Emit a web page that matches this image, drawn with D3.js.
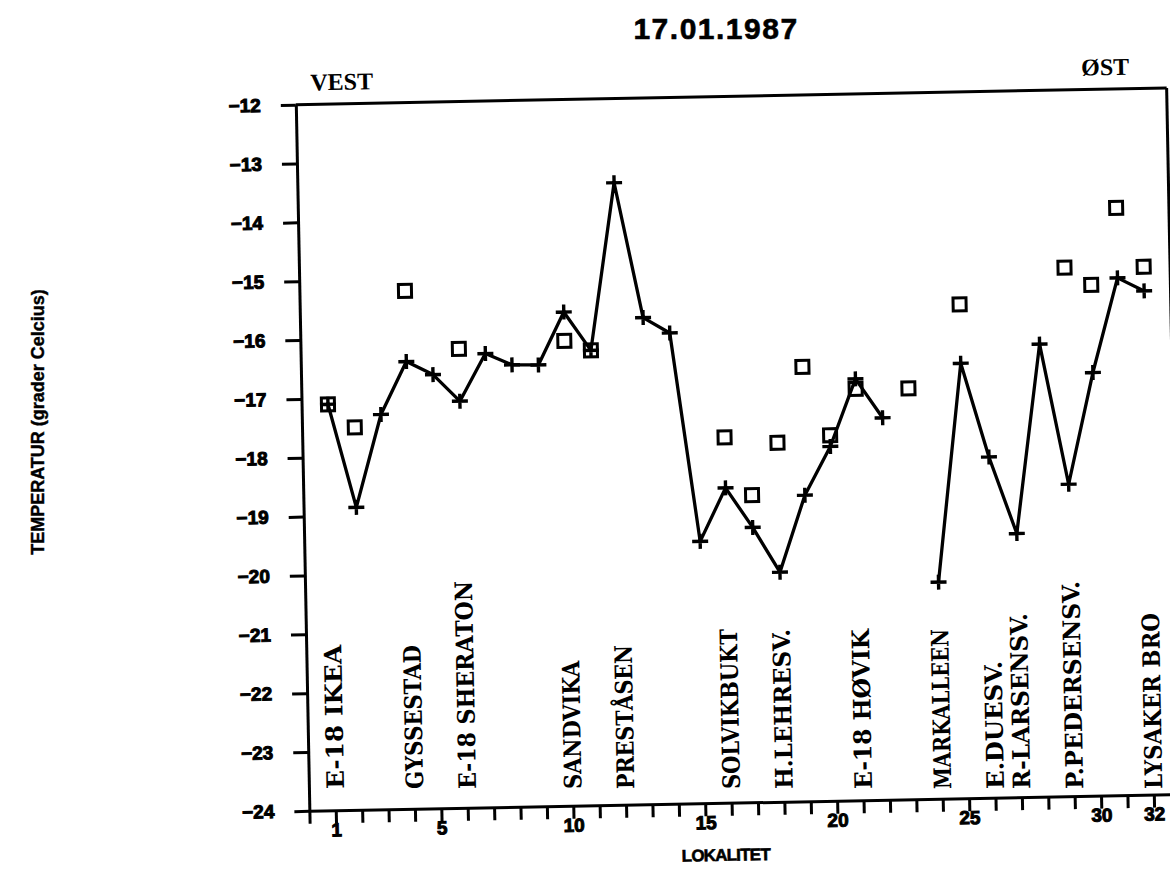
<!DOCTYPE html>
<html><head><meta charset="utf-8">
<script src="https://cdn.jsdelivr.net/npm/d3@7"></script>
<style>body{margin:0;background:#fff}</style>
</head><body>
<svg id="c" width="1170" height="894"></svg>
<script>
// ---------------- data ----------------
const chartTitle = "17.01.1987";
const yAxisTitle = "TEMPERATUR (grader Celcius)";
const xAxisTitle = "LOKALITET";
const westLabel = "VEST";
const eastLabel = "ØST";
const locations = d3.range(1, 33);            // lokalitet 1..32
// temperature along the route (line with + markers), null = no measurement
const lineTemps = [-17.10, -18.86, -17.29, -16.40, -16.63, -17.09, -16.29, -16.49,
                   -16.50, -15.61, -16.27, -13.43, -15.73, -16.00, -19.55, -18.65,
                   -19.33, -20.10, -18.80, -17.98, -16.84, -17.51, null, -20.32,
                   -16.61, -18.21, -19.52, -16.31, -18.70, -16.81, -15.21, -15.44];
// second measurement (square markers)
const squareTemps = [-17.10, -17.50, null, -15.20, null, -16.20, null, null,
                     null, -16.10, -16.27, null, null, null, null, -17.79,
                     -18.78, -17.90, -16.62, -17.79, -17.01, null, -17.02, null,
                     -15.61, null, null, null, -15.02, -15.32, -14.02, -15.03];
const yTickValues = d3.range(-12, -25, -1);
const xTickValues = d3.range(0, 33);
const xTickLabels = [1, 5, 10, 15, 20, 25, 30, 32];
const stationIdx = [1, 4, 6, 10, 12, 16, 18, 21, 24, 26, 27, 29, 32];
const stationNames = ["E-18 IKEA", "GYSSESTAD", "E-18 SHERATON", "SANDVIKA", "PRESTÅSEN",
                      "SOLVIKBUKT", "H.LEHRESV.", "E-18 HØVIK", "MARKALLEEN", "E.DUESV.",
                      "R-LARSENSV.", "P.PEDERSENSV.", "LYSAKER BRO"];

// ---------------- layout ----------------
const W = 871, H = 706.3;
const cx = 738, cy = 449.4;
const L = cx - W / 2, T = cy - H / 2, B = T + H, R = L + W;
const tilt = -1.1;
const sansBold = "'Liberation Sans', Arial, Helvetica, sans-serif";

const svg = d3.select("#c");
svg.append("rect").attr("width", 1170).attr("height", 894).attr("fill", "#fff");

const x = d3.scaleLinear().domain([0, 33]).range([L, R]);
const y = d3.scaleLinear().domain([-24, -12]).range([B, T]);

// title
svg.append("text").attr("x", 716).attr("y", 39).attr("text-anchor", "middle")
  .attr("font-family", sansBold).attr("font-weight", "bold").attr("font-size", 30)
  .attr("letter-spacing", 1.5).attr("stroke", "#000").attr("stroke-width", 0.6)
  .text(chartTitle);

// y axis title (vertical)
svg.append("text").attr("transform", "translate(44,422) rotate(-90)")
  .attr("text-anchor", "middle").attr("font-family", sansBold).attr("font-weight", "bold")
  .attr("font-size", 18).attr("stroke", "#000").attr("stroke-width", 0.4).text(yAxisTitle);

const g = svg.append("g").attr("transform", `rotate(${tilt},${cx},${cy})`);

// y axis
const yAxis = g.append("g").attr("transform", `translate(${L},0)`)
  .call(d3.axisLeft(y).tickValues(yTickValues).tickSize(15).tickSizeOuter(0)
    .tickPadding(20).tickFormat(d => "\u2212" + Math.abs(d)));
// x axis
const xAxis = g.append("g").attr("transform", `translate(0,${B})`)
  .call(d3.axisBottom(x).tickValues(xTickValues).tickSize(13).tickSizeOuter(0)
    .tickFormat(d => xTickLabels.includes(d) ? d : ""));
[yAxis, xAxis].forEach(a => {
  a.selectAll("path,line").attr("stroke", "#000").attr("stroke-width", 3);
  a.selectAll("text").attr("fill", "#000").attr("font-family", sansBold)
    .attr("font-weight", "bold").attr("font-size", 19)
    .attr("stroke", "#000").attr("stroke-width", 1);
});
xAxis.selectAll("text").attr("y", 26).attr("dy", null);
// top and right frame
g.append("line").attr("x1", x(0)).attr("x2", x(33)).attr("y1", y(-12)).attr("y2", y(-12))
  .attr("stroke", "#000").attr("stroke-width", 3);
g.append("line").attr("x1", x(33)).attr("x2", x(33)).attr("y1", y(-12)).attr("y2", y(-24))
  .attr("stroke", "#000").attr("stroke-width", 3);

// VEST / ØST
const serif = "'Liberation Serif', 'Times New Roman', serif";
g.append("text").attr("x", L + 15).attr("y", T - 14).attr("font-family", serif)
  .attr("font-weight", "bold").attr("font-size", 24).text(westLabel);
g.append("text").attr("x", R - 37).attr("y", T - 14).attr("text-anchor", "end")
  .attr("font-family", serif).attr("font-weight", "bold").attr("font-size", 24).text(eastLabel);

// x axis title
g.append("text").attr("x", L + W / 2 - 20).attr("y", B + 58).attr("text-anchor", "middle")
  .attr("font-family", sansBold).attr("font-weight", "bold").attr("font-size", 17)
  .attr("letter-spacing", -0.8).attr("stroke", "#000").attr("stroke-width", 0.6)
  .text(xAxisTitle);

// station labels (vertical)
const stations = stationIdx.map((i, k) => ({ i, name: stationNames[k] }));
g.selectAll("text.st").data(stations).join("text").attr("class", "st")
  .attr("transform", d => {
    const px = x(d.i);
    const py = B - 13.5 + 0.0192 * (px - cx);
    return `translate(${px},${py}) rotate(-90)`;
  })
  .attr("dy", "0.36em")
  .attr("font-family", "'DejaVu Serif', serif").attr("font-size", 24)
  .attr("font-weight", "bold")
  .attr("textLength", d => d.name.length * 16).attr("lengthAdjust", "spacingAndGlyphs")
  .text(d => d.name);

// line series
const pts = locations.map((loc, k) => ({ loc, v: lineTemps[k] }));
const line = d3.line().defined(d => d.v !== null).x(d => x(d.loc)).y(d => y(d.v));
g.append("path").datum(pts).attr("d", line).attr("fill", "none")
  .attr("stroke", "#000").attr("stroke-width", 3.3).attr("stroke-linejoin", "round");
g.selectAll("path.cross").data(pts.filter(d => d.v !== null)).join("path")
  .attr("class", "cross")
  .attr("transform", d => `translate(${x(d.loc)},${y(d.v)})`)
  .attr("d", "M-8,0H8M0,-7.5V7.5").attr("stroke", "#000").attr("stroke-width", 3.4);

// squares
const sq = locations.map((loc, k) => ({ loc, v: squareTemps[k] })).filter(d => d.v !== null);
g.selectAll("rect.sq").data(sq).join("rect").attr("class", "sq")
  .attr("x", d => x(d.loc) - 6.5).attr("y", d => y(d.v) - 6.5)
  .attr("width", 13).attr("height", 13)
  .attr("fill", "none").attr("stroke", "#000").attr("stroke-width", 3);
</script>
</body></html>
